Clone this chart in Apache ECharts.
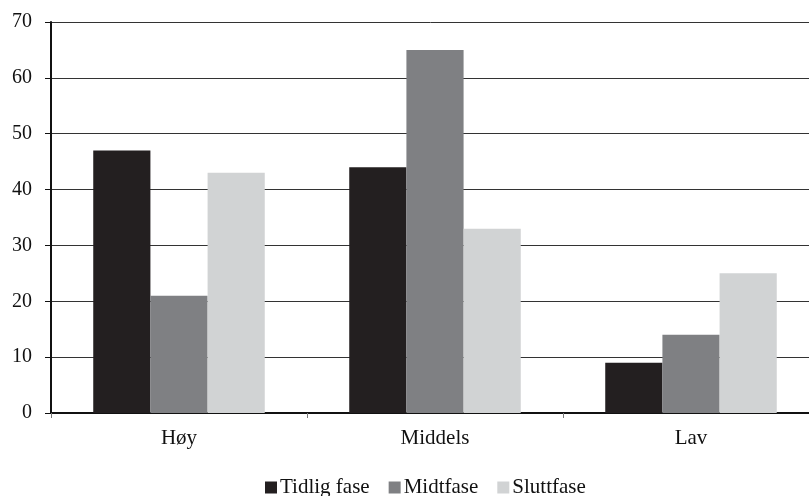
<!DOCTYPE html>
<html><head><meta charset="utf-8">
<script src="https://cdn.jsdelivr.net/npm/echarts@6/dist/echarts.min.js"></script>
<style>html,body{margin:0;padding:0;background:#fff}#c{width:809px;height:496px}</style>
</head><body><div id="c"></div>
<script>
const categories = ['Høy', 'Middels', 'Lav'];
const seriesNames = ['Tidlig fase', 'Midtfase', 'Sluttfase'];
const tidligFase = [47, 44, 9];
const midtfase = [21, 65, 14];
const sluttfase = [43, 33, 25];
const colors = ['#231f20', '#7f8083', '#d1d3d4'];
const font = 'Liberation Serif, Times New Roman, serif';
const chart = echarts.init(document.getElementById('c'));
const vals = [tidligFase, midtfase, sluttfase];
chart.setOption({
  animation: false,
  grid: {left: 51, width: 768, top: 22, height: 391, containLabel: false, outerBoundsMode: 'none'},
  legend: {
    top: 472, left: 260, itemWidth: 12, itemHeight: 12, itemGap: 19,
    icon: 'rect', textStyle: {fontFamily: font, fontSize: 21, color: '#111', padding: [0, 0, 0, -2]},
    data: seriesNames
  },
  xAxis: {
    type: 'category', data: categories,
    axisLine: {lineStyle: {color: '#111', width: 2}},
    axisTick: {show: true, length: 5, lineStyle: {color: '#777', width: 1}},
    axisLabel: {fontFamily: font, fontSize: 21, color: '#111', margin: 15}
  },
  yAxis: {
    type: 'value', min: 0, max: 70, interval: 10,
    axisLine: {show: true, lineStyle: {color: '#111', width: 2}},
    axisTick: {show: true, length: 6, lineStyle: {color: '#111', width: 1}},
    axisLabel: {fontFamily: font, fontSize: 20, color: '#111', margin: 19},
    splitLine: {lineStyle: {color: '#333', width: 1}}
  },
  series: seriesNames.map((n, i) => ({
    name: n, type: 'bar', data: vals[i], barGap: '0%', barCategoryGap: '33%',
    itemStyle: {color: colors[i]}
  }))
});
</script></body></html>
